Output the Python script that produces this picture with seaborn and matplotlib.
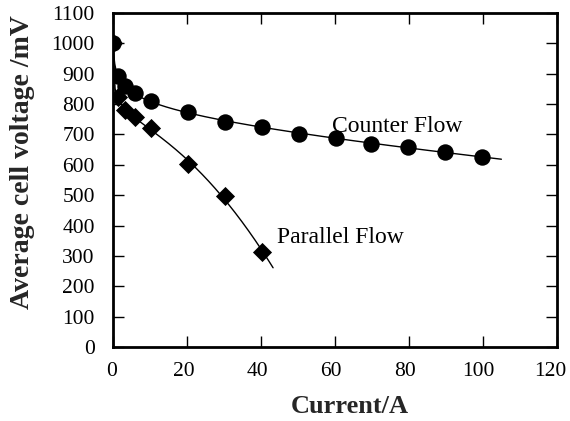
import numpy as np
import pandas as pd
import matplotlib
matplotlib.use("Agg")
import matplotlib.pyplot as plt
import matplotlib.transforms as mtransforms
import seaborn as sns

# Data
counter_current = [0, 1.3, 3.4, 5.9, 10.2, 20.2, 30.3, 40.3, 50.3, 60.3, 69.7, 79.7, 89.7, 99.7]
counter_voltage = [1000, 892, 860, 838, 809, 775, 740, 723, 700, 689, 670, 659, 643, 625]
parallel_current = [0, 1.3, 3.4, 5.9, 10.2, 20.2, 30.3, 40.4]
parallel_voltage = [1000, 823, 780, 758, 722, 601, 497, 312]

x_ticks = [0, 20, 40, 60, 80, 100, 120]
y_ticks = list(range(0, 1101, 100))

sns.set_theme(style="ticks")
plt.rcParams['font.family'] = ['Liberation Serif', 'DejaVu Serif']

fig = plt.figure(figsize=(5.70, 4.21), dpi=100)
ax = fig.add_axes([0.198, 0.176, 0.779, 0.793])

# Fitted trend curves (derived from the data points)
ci = np.array(counter_current[1:]); cv = np.array(counter_voltage[1:])
A = np.column_stack([np.ones_like(ci), np.log(ci), ci])
coef_c, *_ = np.linalg.lstsq(A, cv, rcond=None)
xc = np.linspace(0.25, 105, 400)
yc = coef_c[0] + coef_c[1] * np.log(xc) + coef_c[2] * xc
xc = np.concatenate([[counter_current[0]], xc]); yc = np.concatenate([[counter_voltage[0]], yc])

pi = np.array(parallel_current[1:]); pv = np.array(parallel_voltage[1:])
B = np.column_stack([np.ones_like(pi), np.log(pi), pi, pi ** 2])
coef_p, *_ = np.linalg.lstsq(B, pv, rcond=None)
xp = np.linspace(0.6, 43.3, 400)
yp = coef_p[0] + coef_p[1] * np.log(xp) + coef_p[2] * xp + coef_p[3] * xp ** 2
xp = np.concatenate([[parallel_current[0]], xp]); yp = np.concatenate([[parallel_voltage[0]], yp])

sns.lineplot(x=xc, y=yc, ax=ax, color="black", linewidth=1, sort=False)
sns.lineplot(x=xp, y=yp, ax=ax, color="black", linewidth=1, sort=False)

sns.scatterplot(x=parallel_current, y=parallel_voltage, ax=ax, marker="D",
                s=95, color="black", edgecolor="black", linewidth=0, zorder=3)
sns.scatterplot(x=counter_current, y=counter_voltage, ax=ax, marker="o",
                s=140, color="black", edgecolor="black", linewidth=0, zorder=4)

ax.text(59.1, 708, "Counter Flow", fontsize=17, ha="left", va="baseline", color="black")
ax.text(44.3, 342, "Parallel Flow", fontsize=17, ha="left", va="baseline", color="black")

ax.set_xlim(0, 120)
ax.set_ylim(0, 1100)
ax.set_xticks(x_ticks)
ax.set_yticks(y_ticks)
ax.tick_params(direction="in", length=8, width=1, top=True, right=True,
               labelsize=15.5, colors="black")
ax.tick_params(axis="x", pad=11)
ax.tick_params(axis="y", pad=13)
for s in ax.spines.values():
    s.set_linewidth(2)
    s.set_color("black")
ax.set_xlabel("Current/A", fontsize=19, fontweight="bold")
ax.set_ylabel("Average cell voltage /mV", fontsize=20, fontweight="bold")
ax.xaxis.set_label_coords(0.533, -0.144)
ax.yaxis.set_label_coords(-0.176, 0.555)

# small leftward shifts of the x tick labels, as in the reference
x_label_shift_px = [-1, -3, -3.5, -4, -4, -4.5, -7]
for tick, dx in zip(ax.xaxis.get_major_ticks(), x_label_shift_px):
    off = mtransforms.ScaledTranslation(dx / fig.dpi, 0, fig.dpi_scale_trans)
    tick.label1.set_transform(tick.label1.get_transform() + off)

fig.savefig("out.png", dpi=100)
